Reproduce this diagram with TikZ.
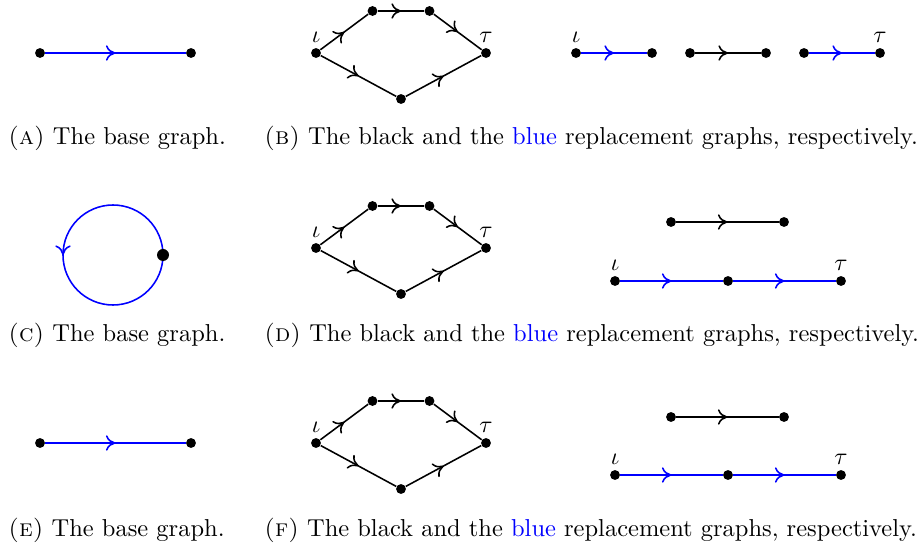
\documentclass[tikz,border=0pt]{standalone}
\usetikzlibrary{decorations.markings,arrows.meta}
\pgfdeclarelayer{bg}
\pgfsetlayers{bg,main}
\begin{document}
\begin{tikzpicture}[x=0.41667pt,y=0.41667pt,
  vdot/.style={circle,fill=black,inner sep=0pt,minimum size=4.1pt},
  bigdot/.style={circle,fill=black,inner sep=0pt,minimum size=5pt},
  edge/.style={line width=0.65pt,black},
  bedge/.style={line width=0.65pt,blue},
  midarrow/.style={postaction={decorate},decoration={markings,
    mark=at position 0.5 with {\arrow{Computer Modern Rightarrow[length=4pt,width=6.4pt,line width=0.65pt]}}}},
  lab/.style={label={[inner sep=1.8pt,font=\fontsize{10.2pt}{12pt}\selectfont]above:#1}},
  captext/.style={anchor=base west,inner sep=0pt,font=\fontsize{10.2pt}{12pt}\selectfont}
]
\useasboundingbox (0,0) rectangle (919,-546);

% ---------- Row 1 ----------
\node[vdot] (a1) at (40,-53) {};
\node[vdot] (a2) at (191,-53) {};
\draw[bedge,midarrow] (a1) -- (a2);

\node[vdot,lab=$\iota$] (b1) at (316,-53) {};
\node[vdot] (b2) at (372.5,-11) {};
\node[vdot] (b3) at (429.5,-11) {};
\node[vdot,lab=$\tau$] (b4) at (486,-53) {};
\node[vdot] (b5) at (401,-99) {};
\draw[edge,midarrow] (b1) -- (b2);
\draw[edge,midarrow] (b2) -- (b3);
\draw[edge,midarrow] (b3) -- (b4);
\draw[edge,midarrow] (b1) -- (b5);
\draw[edge,midarrow] (b5) -- (b4);

\node[vdot,lab=$\iota$] (r1) at (576,-53) {};
\node[vdot] (r2) at (652,-53) {};
\node[vdot] (r3) at (690,-53) {};
\node[vdot] (r4) at (766,-53) {};
\node[vdot] (r5) at (804,-53) {};
\node[vdot,lab=$\tau$] (r6) at (880,-53) {};
\draw[bedge,midarrow] (r1) -- (r2);
\draw[edge,midarrow] (r3) -- (r4);
\draw[bedge,midarrow] (r5) -- (r6);

\node[captext] (capa) at (8,-145) {\textsc{(a)} The base graph.};
\node[captext] (capb) at (264,-145) {\textsc{(b)} The black and the \textcolor{blue}{blue} replacement graphs, respectively.};

% ---------- Row 2 ----------
\node[bigdot] (c1) at (163,-255) {};
\begin{pgfonlayer}{bg}
\draw[bedge,midarrow] (c1.center) arc[start angle=0,end angle=360,radius=50];
\end{pgfonlayer}

\node[vdot,lab=$\iota$] (d1) at (316,-248) {};
\node[vdot] (d2) at (372.5,-206) {};
\node[vdot] (d3) at (429.5,-206) {};
\node[vdot,lab=$\tau$] (d4) at (486,-248) {};
\node[vdot] (d5) at (401,-294) {};
\draw[edge,midarrow] (d1) -- (d2);
\draw[edge,midarrow] (d2) -- (d3);
\draw[edge,midarrow] (d3) -- (d4);
\draw[edge,midarrow] (d1) -- (d5);
\draw[edge,midarrow] (d5) -- (d4);

\node[vdot] (s1) at (671,-222) {};
\node[vdot] (s2) at (784,-222) {};
\draw[edge,midarrow] (s1) -- (s2);
\node[vdot,lab=$\iota$] (t1) at (615,-281) {};
\node[vdot] (t2) at (728,-281) {};
\node[vdot,lab=$\tau$] (t3) at (841,-281) {};
\draw[bedge,midarrow] (t1) -- (t2);
\draw[bedge,midarrow] (t2) -- (t3);

\node[captext] (capc) at (8,-342) {\textsc{(c)} The base graph.};
\node[captext] (capd) at (264,-342) {\textsc{(d)} The black and the \textcolor{blue}{blue} replacement graphs, respectively.};

% ---------- Row 3 ----------
\node[vdot] (e1) at (40,-443) {};
\node[vdot] (e2) at (191,-443) {};
\draw[bedge,midarrow] (e1) -- (e2);

\node[vdot,lab=$\iota$] (f1) at (316,-443) {};
\node[vdot] (f2) at (372.5,-401) {};
\node[vdot] (f3) at (429.5,-401) {};
\node[vdot,lab=$\tau$] (f4) at (486,-443) {};
\node[vdot] (f5) at (401,-489) {};
\draw[edge,midarrow] (f1) -- (f2);
\draw[edge,midarrow] (f2) -- (f3);
\draw[edge,midarrow] (f3) -- (f4);
\draw[edge,midarrow] (f1) -- (f5);
\draw[edge,midarrow] (f5) -- (f4);

\node[vdot] (g1) at (671,-417) {};
\node[vdot] (g2) at (784,-417) {};
\draw[edge,midarrow] (g1) -- (g2);
\node[vdot,lab=$\iota$] (h1) at (615,-475) {};
\node[vdot] (h2) at (728,-475) {};
\node[vdot,lab=$\tau$] (h3) at (841,-475) {};
\draw[bedge,midarrow] (h1) -- (h2);
\draw[bedge,midarrow] (h2) -- (h3);

\node[captext] (cape) at (8,-536) {\textsc{(e)} The base graph.};
\node[captext] (capf) at (264,-536) {\textsc{(f)} The black and the \textcolor{blue}{blue} replacement graphs, respectively.};
\end{tikzpicture}
\end{document}
